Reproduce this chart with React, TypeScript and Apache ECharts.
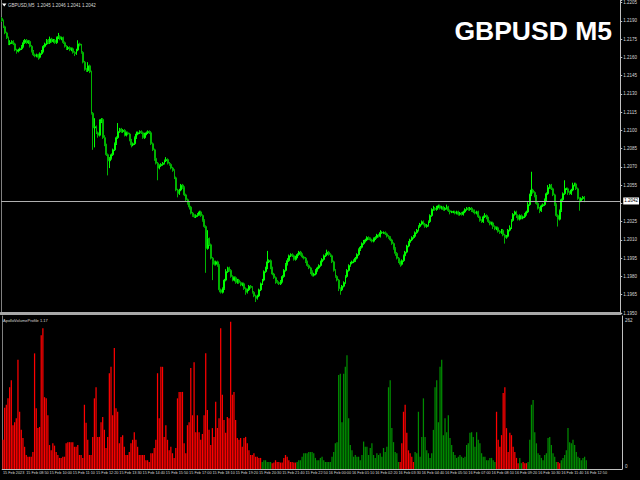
import * as echarts from "echarts";
import { useEffect, useRef } from "react";

// GBPUSD M5 closes, in pips above 1.1950 (one row = 16 bars)
const firstOpen = 242;
const closes = [
    240, 235, 230, 226, 221, 222, 223, 221, 216, 215, 216, 217, 219, 222, 224, 222,
    223, 219, 215, 212, 211, 212, 210, 213, 215, 219, 221, 224, 222, 225, 223, 224,
    222, 226, 227, 225, 226, 222, 219, 217, 218, 216, 217, 214, 213, 216, 221, 220,
    214, 206, 200, 199, 203, 198, 164, 152, 153, 148, 146, 157, 159, 144, 138, 130,
    125, 127, 130, 134, 139, 144, 149, 151, 149, 150, 146, 148, 147, 142, 138, 139,
    144, 147, 148, 149, 148, 144, 147, 148, 149, 148, 139, 134, 127, 123, 119, 121,
    122, 123, 125, 126, 123, 122, 119, 117, 111, 101, 98, 101, 105, 103, 97, 93,
    90, 87, 82, 80, 79, 80, 81, 83, 80, 76, 71, 53, 61, 56, 45, 42,
    40, 42, 39, 19, 17, 20, 27, 34, 37, 35, 30, 27, 29, 25, 27, 25,
    23, 24, 20, 17, 19, 22, 21, 17, 14, 12, 14, 19, 24, 27, 34, 37,
    42, 43, 37, 32, 29, 26, 25, 24, 26, 30, 35, 40, 43, 47, 48, 47,
    44, 46, 48, 50, 48, 46, 45, 42, 39, 37, 34, 31, 32, 35, 37, 39,
    42, 44, 47, 48, 50, 48, 47, 42, 35, 30, 27, 20, 19, 22, 25, 30,
    35, 39, 41, 42, 43, 45, 48, 52, 54, 57, 59, 60, 62, 61, 60, 59,
    61, 62, 64, 63, 66, 66, 66, 65, 63, 62, 60, 57, 53, 49, 45, 42,
    40, 43, 47, 50, 55, 58, 60, 62, 63, 66, 68, 71, 73, 75, 73, 71,
    72, 75, 80, 85, 86, 85, 87, 88, 86, 87, 85, 86, 87, 84, 83, 83,
    83, 82, 83, 81, 82, 81, 83, 85, 86, 85, 86, 84, 83, 82, 83, 79,
    76, 75, 79, 80, 78, 75, 73, 74, 71, 69, 70, 67, 66, 68, 64, 62,
    63, 68, 70, 76, 81, 83, 80, 77, 80, 78, 79, 81, 83, 89, 97, 101,
    99, 96, 90, 86, 84, 88, 89, 93, 98, 103, 105, 102, 97, 89, 80, 77,
    84, 93, 98, 102, 102, 99, 98, 101, 105, 106, 102, 94, 92, 94, 95, 92,
];

// wick beyond the candle body, in pips
const wickUp = [
    1, 1, 1, 1, 1, 2, 1, 1, 1, 1, 1, 1, 1, 2, 1, 1,
    1, 1, 1, 1, 1, 1, 1, 1, 1, 1, 1, 1, 1, 2, 1, 1,
    1, 1, 3, 1, 1, 1, 1, 1, 1, 1, 1, 1, 1, 1, 3, 1,
    1, 1, 1, 1, 3, 1, 1, 1, 7, 1, 1, 2, 1, 1, 2, 1,
    1, 1, 1, 1, 1, 1, 7, 1, 1, 1, 1, 1, 1, 1, 1, 1,
    1, 2, 1, 1, 1, 1, 1, 1, 1, 1, 1, 1, 1, 1, 1, 1,
    1, 1, 1, 2, 1, 1, 1, 1, 1, 1, 1, 1, 1, 1, 1, 1,
    1, 1, 1, 1, 1, 1, 1, 1, 1, 1, 1, 1, 7, 1, 1, 1,
    1, 1, 1, 1, 1, 1, 1, 2, 1, 1, 1, 1, 1, 1, 1, 1,
    1, 1, 1, 1, 1, 1, 1, 1, 1, 1, 1, 1, 1, 1, 1, 1,
    9, 1, 1, 1, 1, 1, 1, 1, 1, 1, 1, 1, 2, 1, 1, 1,
    1, 1, 1, 1, 1, 1, 1, 1, 1, 1, 1, 1, 1, 1, 1, 1,
    1, 1, 1, 1, 2, 1, 1, 1, 1, 1, 1, 1, 1, 1, 1, 1,
    1, 1, 1, 1, 1, 1, 1, 1, 1, 1, 1, 1, 1, 1, 1, 1,
    1, 1, 1, 1, 2, 1, 1, 1, 1, 1, 1, 1, 1, 1, 1, 1,
    1, 1, 1, 1, 1, 1, 1, 1, 1, 1, 1, 1, 1, 1, 1, 1,
    1, 1, 1, 1, 2, 1, 1, 1, 1, 1, 1, 1, 2, 1, 1, 1,
    1, 1, 1, 1, 1, 1, 1, 1, 1, 1, 1, 1, 1, 2, 1, 1,
    1, 1, 1, 2, 1, 1, 1, 1, 1, 1, 1, 1, 1, 1, 1, 1,
    1, 1, 2, 1, 1, 1, 1, 1, 1, 1, 1, 1, 1, 2, 1, 15,
    1, 1, 1, 1, 1, 1, 1, 1, 1, 2, 1, 1, 1, 1, 1, 1,
    1, 1, 1, 7, 1, 1, 1, 1, 2, 1, 1, 1, 1, 1, 1, 1,
];
const wickDown = [
    1, 1, 1, 1, 1, 1, 1, 1, 1, 2, 1, 1, 1, 1, 1, 1,
    1, 1, 1, 1, 1, 1, 2, 1, 1, 1, 1, 1, 1, 1, 1, 1,
    1, 1, 1, 1, 1, 1, 1, 1, 1, 1, 1, 1, 2, 1, 1, 1,
    1, 1, 1, 1, 1, 1, 1, 18, 16, 1, 2, 1, 1, 1, 1, 1,
    12, 6, 1, 1, 1, 1, 1, 1, 1, 1, 1, 1, 1, 1, 2, 1,
    1, 1, 1, 1, 1, 1, 1, 1, 1, 1, 1, 1, 2, 1, 10, 1,
    1, 1, 1, 1, 1, 1, 1, 1, 1, 1, 3, 1, 1, 1, 1, 1,
    1, 2, 1, 1, 1, 1, 1, 1, 1, 1, 1, 20, 1, 1, 1, 15,
    1, 1, 1, 2, 1, 1, 1, 1, 1, 1, 1, 1, 1, 1, 1, 1,
    1, 1, 1, 2, 1, 1, 1, 1, 1, 3, 1, 1, 1, 1, 1, 1,
    1, 1, 1, 1, 1, 2, 1, 1, 1, 1, 1, 1, 1, 1, 1, 1,
    1, 1, 1, 1, 1, 1, 1, 1, 1, 1, 2, 1, 1, 1, 1, 1,
    1, 1, 1, 1, 1, 1, 1, 1, 1, 1, 1, 2, 4, 1, 1, 1,
    1, 1, 1, 1, 1, 1, 1, 1, 1, 1, 1, 1, 1, 1, 1, 1,
    1, 1, 1, 1, 1, 1, 1, 1, 1, 1, 1, 1, 1, 2, 1, 1,
    2, 1, 1, 1, 1, 1, 1, 1, 1, 1, 1, 1, 1, 1, 1, 1,
    1, 1, 1, 1, 1, 1, 1, 1, 1, 1, 1, 1, 1, 1, 2, 1,
    1, 1, 1, 1, 1, 1, 1, 1, 1, 1, 1, 1, 1, 1, 1, 1,
    1, 1, 1, 1, 1, 1, 1, 1, 2, 1, 1, 1, 1, 1, 1, 5,
    1, 1, 1, 1, 1, 1, 2, 1, 1, 1, 1, 1, 1, 1, 1, 1,
    1, 1, 1, 1, 2, 1, 1, 1, 1, 1, 1, 1, 1, 1, 1, 6,
    1, 1, 1, 1, 1, 2, 1, 1, 1, 1, 1, 1, 8, 1, 1, 1,
];

// ApolloVolumeProfile histogram
const volumes = [
    50, 105, 110, 121, 140, 152, 75, 80, 87, 187, 98, 67, 53, 38, 24, 21,
    21, 21, 29, 198, 104, 70, 72, 229, 241, 123, 121, 92, 41, 32, 44, 40,
    29, 24, 19, 19, 21, 21, 44, 46, 46, 46, 46, 38, 38, 41, 24, 24,
    19, 110, 79, 50, 24, 24, 55, 121, 140, 55, 55, 80, 89, 67, 36, 55,
    164, 175, 92, 207, 104, 98, 44, 55, 58, 38, 24, 24, 29, 44, 50, 63,
    50, 38, 24, 24, 24, 24, 15, 15, 12, 27, 27, 36, 50, 164, 87, 175,
    175, 55, 75, 50, 32, 38, 27, 19, 36, 121, 132, 132, 132, 44, 27, 75,
    80, 173, 92, 183, 63, 92, 63, 50, 60, 92, 198, 101, 67, 41, 70, 55,
    115, 70, 87, 241, 127, 84, 62, 89, 87, 252, 127, 132, 84, 53, 50, 53,
    38, 53, 55, 44, 32, 24, 24, 27, 21, 21, 19, 19, 12, 15, 15, 12,
    12, 12, 10, 11, 15, 12, 12, 11, 11, 19, 24, 21, 15, 12, 12, 11,
    11, 12, 15, 15, 21, 27, 27, 27, 29, 29, 29, 27, 19, 15, 15, 19,
    21, 15, 12, 12, 12, 12, 21, 29, 44, 46, 161, 163, 80, 163, 175, 195,
    87, 41, 32, 21, 24, 21, 21, 15, 24, 47, 38, 38, 24, 36, 44, 24,
    19, 27, 24, 27, 21, 36, 29, 38, 140, 152, 70, 46, 29, 27, 12, 12,
    44, 98, 110, 62, 32, 27, 21, 12, 29, 27, 98, 21, 55, 121, 55, 32,
    27, 19, 27, 67, 140, 152, 80, 175, 187, 58, 87, 63, 92, 53, 41, 29,
    24, 19, 21, 24, 21, 19, 21, 41, 44, 62, 63, 55, 38, 63, 50, 44,
    27, 21, 21, 15, 15, 19, 19, 15, 12, 98, 50, 38, 58, 130, 140, 70,
    29, 62, 58, 38, 29, 19, 10, 19, 10, 12, 10, 10, 12, 50, 110, 118,
    63, 44, 27, 24, 19, 15, 24, 27, 53, 55, 41, 27, 21, 12, 12, 10,
    15, 19, 24, 32, 70, 46, 44, 50, 41, 29, 21, 19, 15, 19, 21, 15,
];
// bar index ranges drawn in red, the rest green
const redSpans = [[0, 155], [162, 176], [239, 247], [297, 310], [313, 315], [334, 335]];

const timeLabels = [
    "15 Feb 2023", "15 Feb 08:50", "15 Feb 10:00", "15 Feb 11:10", "15 Feb 12:20",
    "15 Feb 13:30", "15 Feb 14:40", "15 Feb 15:50", "15 Feb 17:00", "15 Feb 18:10",
    "15 Feb 19:20", "15 Feb 20:30", "15 Feb 21:40", "15 Feb 22:50", "16 Feb 00:00",
    "16 Feb 01:10", "16 Feb 02:20", "16 Feb 03:30", "16 Feb 04:40", "16 Feb 05:50",
    "16 Feb 07:00", "16 Feb 08:10", "16 Feb 09:20", "16 Feb 10:30", "16 Feb 11:40",
    "16 Feb 12:50",
];
const priceTicks = [
    "1.1950", "1.1965", "1.1980", "1.1995", "1.2010", "1.2025", "1.2040", "1.2055", "1.2070",
    "1.2085", "1.2100", "1.2115", "1.2130", "1.2145", "1.2160", "1.2175", "1.2190", "1.2205",
];
const volumeTicks = ["0", "262"];

const BASE = 1.195;
const SLOTS = 373; // bars plus the empty shift on the right
const LABEL_EVERY = 14;
const AXIS = "#c0c0c0";
const TEXT = "#d8d8d8";
const FONT = "Liberation Sans";

const fmt = (v: number) => (BASE + v / 10000).toFixed(4);

const slots = Array.from({ length: SLOTS }, (_, i) => String(i));
const candles = closes.map((c, i) => {
    const o = i === 0 ? firstOpen : closes[i - 1];
    return [o, c, Math.min(o, c) - wickDown[i], Math.max(o, c) + wickUp[i]];
});
const isRed = (i: number) => redSpans.some(([a, b]) => i >= a && i <= b);
const volumeBars = volumes.map((v, i) => ({
    value: v,
    itemStyle: { color: isRed(i) ? "#ff0000" : "#008c00" },
}));
const last = candles[candles.length - 1];

const App = () => {
    const node = useRef<HTMLDivElement>(null);

    useEffect(() => {
        const chart = echarts.init(node.current, null, { renderer: "svg" });
        const option: any = {
            animation: false,
            backgroundColor: "#000",
            title: [
                {
                    text: `GBPUSD,M5  ${fmt(last[0])} ${fmt(last[3])} ${fmt(last[2])} ${fmt(last[1])}`,
                    left: 8,
                    top: 3,
                    padding: 0,
                    textStyle: { color: TEXT, fontSize: 4.5, fontWeight: "normal", fontFamily: FONT },
                },
                {
                    text: "GBPUSD M5",
                    right: 28,
                    top: 17,
                    padding: 0,
                    textStyle: { color: "#fff", fontSize: 26.5, fontWeight: "bold", fontFamily: FONT },
                },
                {
                    text: "ApolloVolumeProfile 1.17",
                    left: 3,
                    top: 318,
                    padding: 0,
                    textStyle: { color: TEXT, fontSize: 4, fontWeight: "normal", fontFamily: FONT },
                },
            ],
            graphic: [
                {
                    type: "polygon",
                    shape: { points: [[2, 3.5], [6.5, 3.5], [4.25, 6.5]] },
                    style: { fill: "#fff" },
                },
            ],
            grid: [
                { left: 1, top: 0, width: 621, height: 313 },
                { left: 1, top: 316, width: 621, height: 153 },
            ],
            xAxis: [
                {
                    type: "category",
                    gridIndex: 0,
                    data: slots,
                    axisLine: { onZero: false, lineStyle: { color: "#a8a8a8", width: 3 } },
                    axisTick: { show: false },
                    axisLabel: { show: false },
                },
                {
                    type: "category",
                    gridIndex: 1,
                    data: slots,
                    axisLine: { onZero: false, lineStyle: { color: AXIS } },
                    axisTick: {
                        interval: LABEL_EVERY - 1,
                        alignWithLabel: true,
                        length: 3,
                        lineStyle: { color: AXIS },
                    },
                    axisLabel: {
                        interval: LABEL_EVERY - 1,
                        align: "left",
                        margin: 2,
                        color: TEXT,
                        fontSize: 3.8,
                        fontFamily: FONT,
                        formatter: (_: string, i: number) => timeLabels[i / LABEL_EVERY] ?? "",
                    },
                },
            ],
            yAxis: [
                {
                    type: "value",
                    gridIndex: 0,
                    position: "right",
                    min: 0,
                    max: 257,
                    interval: 15,
                    axisLine: { show: true, lineStyle: { color: AXIS } },
                    axisTick: { show: true, length: 2, lineStyle: { color: AXIS } },
                    axisLabel: {
                        margin: 3,
                        color: TEXT,
                        fontSize: 4.5,
                        fontFamily: FONT,
                        formatter: (v: number) => {
                            const k = Math.round(v / 15);
                            if (Math.abs(v - k * 15) > 0.01) return "";
                            // the current price box covers the nearest tick
                            if (Math.abs(v - last[1]) < 6) return "";
                            return priceTicks[k] ?? "";
                        },
                    },
                    splitLine: { show: false },
                },
                {
                    type: "value",
                    gridIndex: 1,
                    position: "right",
                    min: 0,
                    max: 262,
                    interval: 262,
                    axisLine: { show: true, lineStyle: { color: AXIS } },
                    axisTick: { show: false },
                    axisLabel: {
                        margin: 3,
                        color: TEXT,
                        fontSize: 4.5,
                        fontFamily: FONT,
                        formatter: (v: number) =>
                            v === 0 ? `{lo|${volumeTicks[0]}}` : `{hi|${volumeTicks[1]}}`,
                        rich: {
                            hi: { fontSize: 4.5, color: TEXT, fontFamily: FONT, padding: [9, 0, 0, 0] },
                            lo: { fontSize: 4.5, color: TEXT, fontFamily: FONT, padding: [0, 0, 6, 0] },
                        },
                    },
                    splitLine: { show: false },
                },
                {
                    type: "value",
                    gridIndex: 0,
                    position: "left",
                    axisLine: { show: true, lineStyle: { color: "#808080" } },
                    axisTick: { show: false },
                    axisLabel: { show: false },
                    splitLine: { show: false },
                },
                {
                    type: "value",
                    gridIndex: 1,
                    position: "left",
                    axisLine: { show: true, lineStyle: { color: "#808080" } },
                    axisTick: { show: false },
                    axisLabel: { show: false },
                    splitLine: { show: false },
                },
            ],
            series: [
                {
                    type: "candlestick",
                    xAxisIndex: 0,
                    yAxisIndex: 0,
                    data: candles,
                    barWidth: "85%",
                    itemStyle: {
                        color: "#00c800",
                        color0: "#007800",
                        borderColor: "#00ff00",
                        borderColor0: "#00b400",
                        borderWidth: 1,
                    },
                    markLine: {
                        silent: true,
                        symbol: "none",
                        data: [{ yAxis: last[1] }],
                        lineStyle: { color: "#b0b0b0", width: 1, type: "solid" },
                        label: {
                            position: "end",
                            distance: 3,
                            formatter: () => fmt(last[1]),
                            backgroundColor: "#fff",
                            color: "#000",
                            fontSize: 4.5,
                            fontFamily: FONT,
                            padding: [1, 1],
                        },
                    },
                },
                {
                    type: "bar",
                    xAxisIndex: 1,
                    yAxisIndex: 1,
                    data: volumeBars,
                    barWidth: "75%",
                },
            ],
        };
        chart.setOption(option);
        return () => {
            chart.dispose();
        };
    }, []);

    return (
        <div
            ref={node}
            style={{ position: "fixed", left: 0, top: 0, width: 640, height: 480, background: "#000" }}
        ></div>
    );
};

export default App;
